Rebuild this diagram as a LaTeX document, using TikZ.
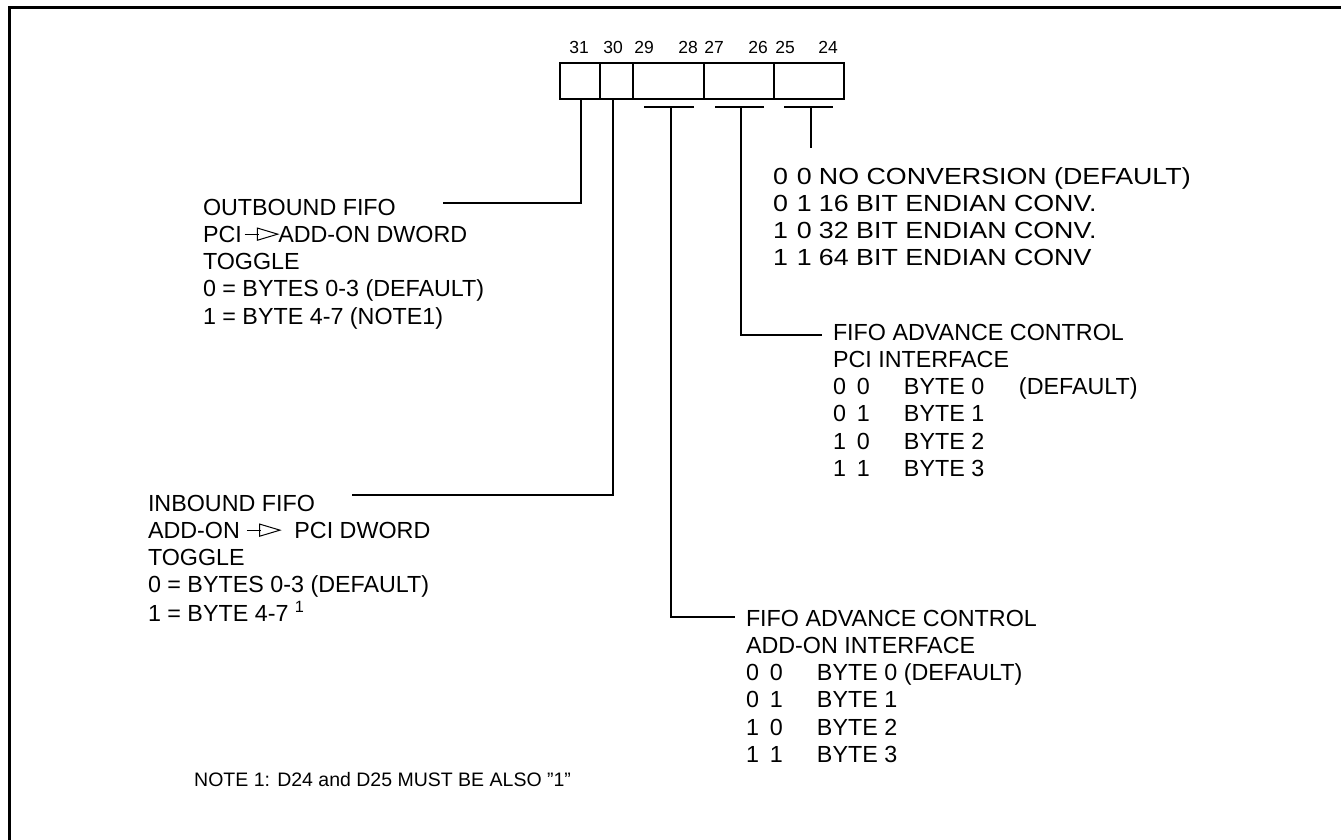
\documentclass[tikz,border=0pt]{standalone}
\usepackage{fontspec}
\setmainfont{Liberation Sans}
\newfontfamily\widefont[FakeStretch=1.15]{Liberation Sans}
\newcommand{\oarr}{\tikz[baseline=0pt,line width=1pt]{\draw (0,0.35em) -- (0.62em,0.35em); \draw[line join=miter] (0.55em,0.09em) -- (1.42em,0.35em) -- (0.55em,0.61em) -- cycle;}}
\newcommand{\cola}[1]{\makebox[24pt][l]{#1}}
\newcommand{\colb}[1]{\makebox[22pt][l]{#1}}
\newcommand{\colc}[1]{\makebox[47pt][l]{#1}}
\newcommand{\sq}{\symbol{34}}
\begin{document}
\begin{tikzpicture}[x=1pt,y=-1pt,
  txt/.style={anchor=base west, inner sep=0pt, outer sep=0pt, font=\fontsize{23.3}{27.3}\selectfont},
  wtxt/.style={anchor=base west, inner sep=0pt, outer sep=0pt, font=\widefont\fontsize{23.3}{27.3}\selectfont},
  bitnum/.style={anchor=base, inner sep=0pt, font=\fontsize{17.5}{19}\selectfont},
  note/.style={anchor=base west, inner sep=0pt, font=\fontsize{19.5}{22}\selectfont},
  cell/.style={draw, line width=1.6pt, anchor=north west, inner sep=0pt, minimum height=36pt},
  ln/.style={line width=1.6pt},
  frame/.style={line width=3pt}]
\useasboundingbox (0,0) rectangle (1341,839);
\draw[frame] (9.5,7) rectangle (1400,900);

% register cells
\node[cell, minimum width=40pt] (c31) at (559,62) {};
\node[cell, minimum width=33pt] (c30) at (599,62) {};
\node[cell, minimum width=71pt] (c29) at (632,62) {};
\node[cell, minimum width=70pt] (c27) at (703,62) {};
\node[cell, minimum width=70pt] (c25) at (773,62) {};

% bit numbers
\foreach \n/\x in {31/579,30/613,29/644,28/688,27/714,26/758,25/785,24/828}
  \node[bitnum] (b\n) at (\x,53) {\n};

% T bars
\coordinate (ta1) at (644,107); \coordinate (ta2) at (694,107); \coordinate (ta) at (671,107);
\coordinate (tb1) at (715,107); \coordinate (tb2) at (764,107); \coordinate (tb) at (741,107);
\coordinate (tc1) at (784,107); \coordinate (tc2) at (833,107); \coordinate (tc) at (811,107);
\draw[ln] (ta1) -- (ta2); \draw[ln] (tb1) -- (tb2); \draw[ln] (tc1) -- (tc2);
\coordinate (tcend) at (811,148);
\draw[ln] (tc) -- (tcend);

% text blocks
\node[txt] (out) at (203,215) {\begin{tabular}[t]{@{}l@{}}OUTBOUND FIFO\\PCI\hspace{0.1em}\oarr ADD-ON DWORD\\TOGGLE\\0 = BYTES 0-3 (DEFAULT)\\1 = BYTE 4-7 (NOTE1)\end{tabular}};
\node[txt] (in) at (148,511) {\begin{tabular}[t]{@{}l@{}}INBOUND FIFO\\ADD-ON \oarr\hspace{0.6em}PCI DWORD\\TOGGLE\\0 = BYTES 0-3 (DEFAULT)\\1 = BYTE 4-7 \textsuperscript{1}\end{tabular}};
\node[wtxt] (endian) at (773,184) {\begin{tabular}[t]{@{}l@{}}\cola{0}\colb{0}NO CONVERSION (DEFAULT)\\
\cola{0}\colb{1}16 BIT ENDIAN CONV.\\
\cola{1}\colb{0}32 BIT ENDIAN CONV.\\
\cola{1}\colb{1}64 BIT ENDIAN CONV\end{tabular}};
\node[txt] (pci) at (833,340) {\begin{tabular}[t]{@{}l@{}}FIFO ADVANCE CONTROL\\PCI INTERFACE\\
\cola{0}\colc{0}\makebox[115pt][l]{BYTE 0}(DEFAULT)\\
\cola{0}\colc{1}BYTE 1\\
\cola{1}\colc{0}BYTE 2\\
\cola{1}\colc{1}BYTE 3\end{tabular}};
\node[txt] (add) at (746,626) {\begin{tabular}[t]{@{}l@{}}FIFO ADVANCE CONTROL\\ADD-ON INTERFACE\\
\cola{0}\colc{0}BYTE 0 (DEFAULT)\\
\cola{0}\colc{1}BYTE 1\\
\cola{1}\colc{0}BYTE 2\\
\cola{1}\colc{1}BYTE 3\end{tabular}};
\node[note] (nt) at (194,786) {NOTE 1: D24 and D25 MUST BE ALSO \sq1\sq};

% connectors
\coordinate (outend) at (443,203);
\coordinate (inend) at (352,495);
\coordinate (pciend) at (822,335);
\coordinate (addend) at (735,617);
\draw[ln] (c31.south -| 581,0) |- (outend);
\draw[ln] (c30.south -| 613,0) |- (inend);
\draw[ln] (ta) |- (addend);
\draw[ln] (tb) |- (pciend);
\end{tikzpicture}
\end{document}
